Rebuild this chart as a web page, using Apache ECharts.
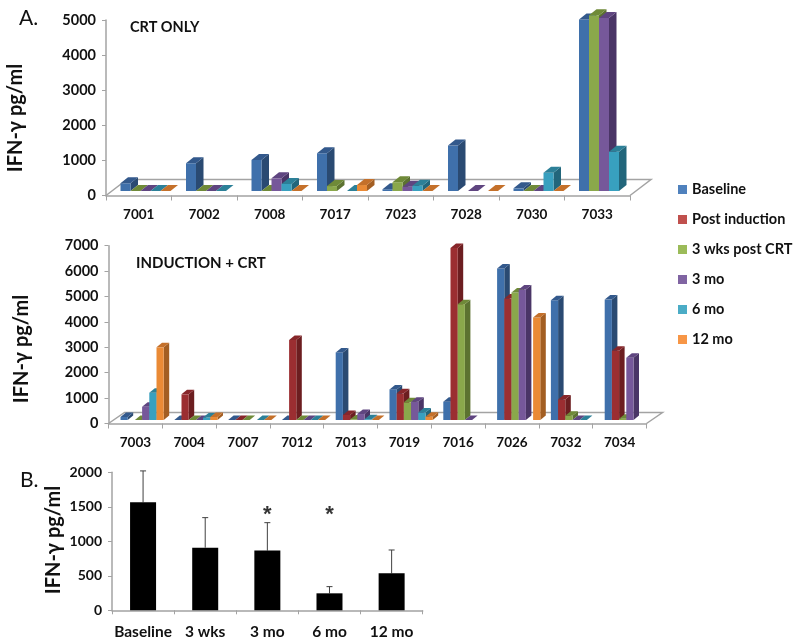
<!DOCTYPE html>
<html>
<head>
<meta charset="utf-8">
<style>html,body{margin:0;padding:0;background:#fff}#c{width:800px;height:644px}</style>
<script src="https://cdn.jsdelivr.net/npm/echarts@6/dist/echarts.min.js"></script>
</head>
<body>
<div id="c"></div>
<script>
const categoriesCRT = ['7001','7002','7008','7017','7023','7028','7030','7033'];
const crtBaseline = [220,790,885,1075,50,1295,75,4885];
const crt3wks     = [0,0,0,140,250,null,0,5010];
const crt3mo      = [0,0,360,null,120,0,0,4930];
const crt6mo      = [0,0,200,0,150,null,520,1120];
const crt12mo     = [0,null,0,170,0,0,0,null];

const categoriesInd = ['7003','7004','7007','7012','7013','7019','7016','7026','7032','7034'];
const indBaseline = [120,0,0,0,2660,1205,720,5960,4716,4740];
const indPost     = [null,1010,0,3150,200,1050,6770,4780,812,2725];
const ind3wks     = [0,0,0,0,20,695,4560,5020,170,50];
const ind3mo      = [520,0,null,0,235,720,0,5135,0,2450];
const ind6mo      = [1075,100,0,0,30,300,null,null,0,null];
const ind12mo     = [2860,120,0,0,0,130,null,4035,null,null];

const categoriesB = ['Baseline','3 wks','3 mo','6 mo','12 mo'];
const meansB  = [1565,908,865,246,536];
const uppersB = [2020,1343,1270,343,874];
const starsB  = [null,null,1440,1440,null];

const seriesNames = ['Baseline','Post induction','3 wks post CRT','3 mo','6 mo','12 mo'];
const legendColors = ['#4f81bd','#c0504d','#9bbb59','#8064a2','#4bacc6','#f79646'];
const frontColors  = ['#3f70ab','#9b2e31','#8aa84b','#76589a','#38a0bf','#ea8a35'];
const topColors    = ['#33598c','#87262a','#6f8a38','#5f4580','#2c8098','#c4702a'];
const sideColors   = ['#2a4a72','#6c1e20','#5c7230','#4a3566','#22667b','#a35e22'];

const font = 'Lato, Carlito, "Open Sans", sans-serif';
const axisGray = '#a3a3a3';

function floorSeries(gridIdx, n, dx, dy) {
  return {
    type:'custom', xAxisIndex:gridIdx, yAxisIndex:gridIdx, silent:true, z:1,
    data:[[0,0]], encode:{x:0,y:1},
    renderItem:function(p, api){
      const c = api.coord([0,0]);
      const band = api.size([1,0])[0];
      const l = c[0]-band/2, r = l+band*n, y = c[1];
      return {type:'polyline', shape:{points:[[l,y],[l+dx,y+dy],[r+dx,y+dy],[r,y]]},
        style:{fill:null, stroke:axisGray, lineWidth:1.5}};
    }
  };
}

function barSeries(gridIdx, colorIdx, values, slot, n, w, shift, lift, dx, dy) {
  return {
    type:'custom', name:seriesNames[colorIdx], xAxisIndex:gridIdx, yAxisIndex:gridIdx, z:2,
    itemStyle:{color:legendColors[colorIdx]},
    data:values.map((v,i)=>[i,v]), encode:{x:0,y:1},
    renderItem:function(p, api){
      const v = api.value(1);
      if (v===null || isNaN(v)) return null;
      const c = api.coord([api.value(0), v]);
      const base = api.coord([api.value(0), 0]);
      const x0 = c[0] + (slot-n/2)*w + shift, x1 = x0 + w;
      const yT = c[1]-lift, yB = base[1]-lift;
      const kids = [];
      if (yB-yT>0.2) {
        kids.push({type:'polygon', shape:{points:[[x1,yT],[x1+dx,yT+dy],[x1+dx,yB+dy],[x1,yB]]}, style:{fill:sideColors[colorIdx]}});
        kids.push({type:'polygon', shape:{points:[[x0,yT],[x1,yT],[x1,yB],[x0,yB]]}, style:{fill:frontColors[colorIdx]}});
      }
      kids.push({type:'polygon', shape:{points:[[x0,yT],[x1,yT],[x1+dx,yT+dy],[x0+dx,yT+dy]]}, style:{fill:topColors[colorIdx]}});
      return {type:'group', children:kids};
    }
  };
}

function xAxis(gridIdx, data, size, margin, tick) {
  return {type:'category', gridIndex:gridIdx, data:data,
    axisLine:{lineStyle:{color:axisGray,width:1.5}},
    axisTick:{show:true,length:tick,lineStyle:{color:axisGray,width:1}},
    axisLabel:{color:'#111',fontFamily:font,fontWeight:'bold',fontSize:size,margin:margin,interval:0}};
}
function yAxis(gridIdx, max, interval, size, margin) {
  return {type:'value', gridIndex:gridIdx, min:0, max:max, interval:interval,
    axisLine:{show:true,lineStyle:{color:axisGray,width:1.5}},
    axisTick:{show:true,length:4,lineStyle:{color:axisGray,width:1}},
    splitLine:{show:false},
    axisLabel:{color:'#111',fontFamily:font,fontWeight:'bold',fontSize:size,margin:margin,formatter:function(v){return String(v);}}};
}
function txt(s, x, y, size, weight, rot) {
  return {type:'text', x:x, y:y, rotation:rot||0, silent:true,
    style:{text:s, fill:'#111', font:weight+' '+size+'px '+font, align:rot?'center':'left', verticalAlign:'middle'}};
}

const crtSets = [[0,crtBaseline],[2,crt3wks],[3,crt3mo],[4,crt6mo],[5,crt12mo]];
const indSets = [[0,indBaseline],[1,indPost],[2,ind3wks],[3,ind3mo],[4,ind6mo],[5,ind12mo]];

const option = {
  animation:false,
  backgroundColor:'#fff',
  textStyle:{fontFamily:font},
  grid:[
    {left:106,top:20,width:524,height:175.5},
    {left:108.5,top:245.7,width:538,height:177.8},
    {left:112,top:472.3,width:310.7,height:138}
  ],
  xAxis:[xAxis(0,categoriesCRT,13.5,12,5), xAxis(1,categoriesInd,13.5,12,5), xAxis(2,categoriesB,15.5,14,4)],
  yAxis:[yAxis(0,5000,1000,14.5,10), yAxis(1,7000,1000,14.5,10), yAxis(2,2000,500,14,10)],
  legend:{orient:'vertical', left:673, top:177, icon:'rect', itemWidth:9, itemHeight:9, itemGap:15,
    data:seriesNames, selectedMode:false,
    textStyle:{color:'#111',fontFamily:font,fontWeight:'bold',fontSize:14.5}},
  graphic:[
    txt('A.',19,18,21,'normal'),
    txt('B.',20,480,21,'normal'),
    txt('CRT ONLY',130,27,14.5,'bold'),
    txt('INDUCTION + CRT',136,263,15,'bold'),
    txt('IFN-\u03b3 pg/ml',16,118,20,'bold',Math.PI/2),
    txt('IFN-\u03b3 pg/ml',22,349,20,'bold',Math.PI/2),
    txt('IFN-\u03b3 pg/ml',54,540,20,'bold',Math.PI/2)
  ],
  series:[
    floorSeries(0,categoriesCRT.length,21,-16),
    floorSeries(1,categoriesInd.length,16,-11),
    ...crtSets.map((s,i)=>barSeries(0,s[0],s[1],i,5,10,6.75,4.5,7.5,-6)),
    ...indSets.map((s,i)=>barSeries(1,s[0],s[1],i,6,7.2,6.7,3.5,5.5,-4.5)),
    {type:'bar', name:'Mean', xAxisIndex:2, yAxisIndex:2, data:meansB, barWidth:26, itemStyle:{color:'#000'}, z:3},
    {type:'custom', name:'Upper', xAxisIndex:2, yAxisIndex:2, z:2,
      data:uppersB.map((v,i)=>[i,v,meansB[i]]), encode:{x:0,y:1},
      renderItem:function(p, api){
        const t = api.coord([api.value(0),api.value(1)]);
        const b = api.coord([api.value(0),api.value(2)]);
        const st = {stroke:'#404040', lineWidth:1, fill:null};
        return {type:'group', children:[
          {type:'line', shape:{x1:t[0],y1:t[1],x2:b[0],y2:b[1]}, style:st},
          {type:'line', shape:{x1:t[0]-3,y1:t[1],x2:t[0]+3,y2:t[1]}, style:st}
        ]};
      }},
    {type:'scatter', name:'Significant', xAxisIndex:2, yAxisIndex:2, symbolSize:1, itemStyle:{color:'transparent'},
      data:starsB.map((v,i)=>[i,v]),
      label:{show:true, position:'inside', formatter:'*', color:'#000', textBorderWidth:0, fontFamily:'"Liberation Sans", sans-serif', fontWeight:'bold', fontSize:22, offset:[0,4]}}
  ]
};
const chart = echarts.init(document.getElementById('c'));
chart.setOption(option);
</script>
</body>
</html>
